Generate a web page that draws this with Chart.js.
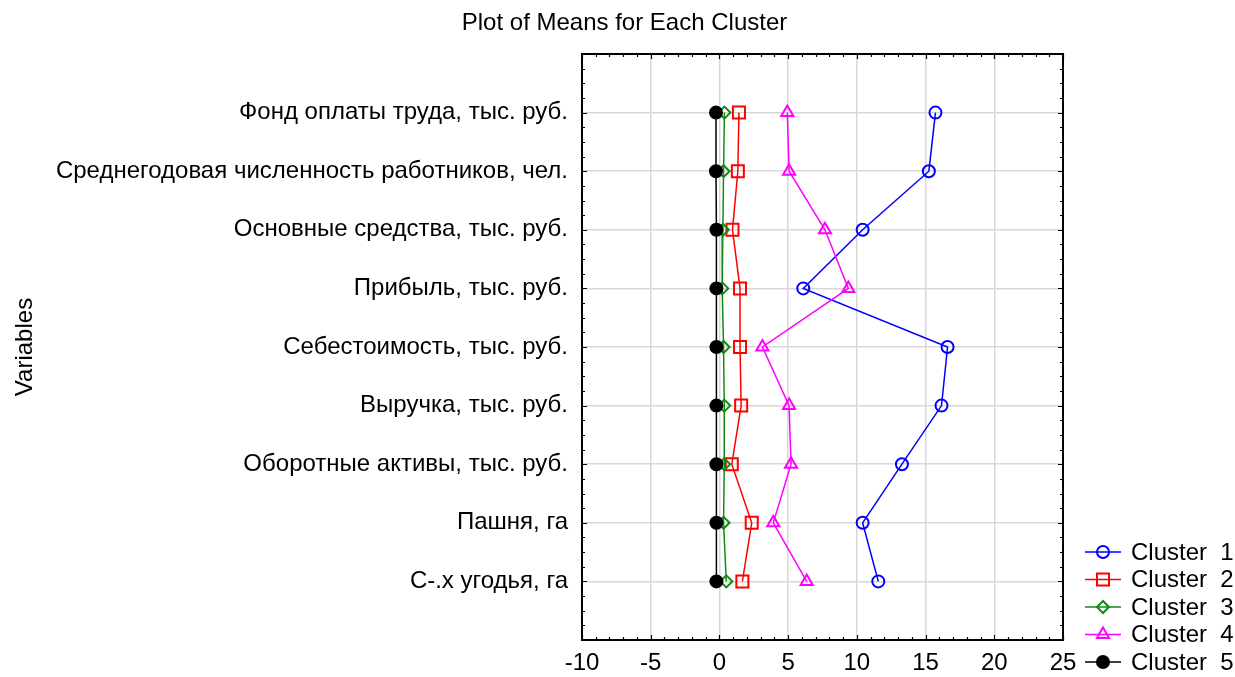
<!DOCTYPE html>
<html>
<head>
<meta charset="utf-8">
<script src="https://cdn.jsdelivr.net/npm/chart.js@4/dist/chart.umd.min.js"></script>
<style>
  html, body { margin: 0; padding: 0; background: #fff; }
  #wrap { width: 1235px; height: 677px; }
</style>
</head>
<body>
<div id="wrap"><canvas id="Chart" width="1235" height="677"></canvas></div>
<script>
// variables (rows from top to bottom)
const variables = [
  'Фонд оплаты труда, тыс. руб.',
  'Среднегодовая численность работников, чел.',
  'Основные средства, тыс. руб.',
  'Прибыль, тыс. руб.',
  'Себестоимость, тыс. руб.',
  'Выручка, тыс. руб.',
  'Оборотные активы, тыс. руб.',
  'Пашня, га',
  'С-.х угодья, га'
];
// means for each cluster, same order as variables
const cluster1 = [15.72, 15.24, 10.42, 6.10, 16.60, 16.16, 13.28, 10.42, 11.56];
const cluster2 = [1.42, 1.34, 0.95, 1.50, 1.50, 1.58, 0.90, 2.35, 1.67];
const cluster3 = [0.36, 0.30, 0.25, 0.20, 0.30, 0.35, 0.35, 0.30, 0.50];
const cluster4 = [4.94, 5.07, 7.68, 9.38, 3.13, 5.07, 5.21, 3.92, 6.35];
const cluster5 = [-0.25, -0.25, -0.22, -0.22, -0.22, -0.22, -0.22, -0.22, -0.22];
const xTicks = [-10, -5, 0, 5, 10, 15, 20, 25];

const clusterNames = ['Cluster  1', 'Cluster  2', 'Cluster  3', 'Cluster  4', 'Cluster  5'];
const clusterValues = [cluster1, cluster2, cluster3, cluster4, cluster5];
const colors = ['#0000ff', '#ff0000', '#138a13', '#ff00ff', '#000000'];
const shapes = ['circle', 'rect', 'rectRot', 'triangle', 'circle'];
const radii = [6, 8.5, 6, 7, 6];
const FONT = '"Liberation Sans", Arial, sans-serif';

function toPoints(vals) {
  return vals.map(function (v, i) { return { x: v, y: i + 1 }; });
}

const datasets = clusterValues.map(function (vals, i) {
  return {
    label: clusterNames[i],
    data: toPoints(vals),
    borderColor: colors[i],
    backgroundColor: i === 4 ? '#000' : 'rgba(0,0,0,0)',
    borderWidth: 1.5,
    pointStyle: shapes[i],
    pointRadius: radii[i],
    pointBorderWidth: 2,
    pointBorderColor: colors[i],
    pointBackgroundColor: i === 4 ? '#000' : 'rgba(0,0,0,0)',
    order: 5 - i,
    tension: 0
  };
});

// frame with inward ticks, like the original plot
const framePlugin = {
  id: 'frame',
  afterDatasetsDraw(chart) {
    const ctx = chart.ctx;
    const a = chart.chartArea;
    const xs = chart.scales.x;
    const ys = chart.scales.y;
    ctx.save();
    ctx.strokeStyle = '#000';
    ctx.lineWidth = 1.2;
    ctx.beginPath();
    for (let v = xs.min; v <= xs.max; v++) {
      const px = Math.round(xs.getPixelForValue(v)) + 0.5;
      const len = v % 5 === 0 ? 5 : 3;
      ctx.moveTo(px, a.bottom); ctx.lineTo(px, a.bottom - len);
      ctx.moveTo(px, a.top); ctx.lineTo(px, a.top + len);
    }
    for (let v = 0; v <= 10; v += 0.25) {
      const py = Math.round(ys.getPixelForValue(v)) + 0.5;
      const len = v % 1 === 0 ? 5 : 3;
      ctx.moveTo(a.left, py); ctx.lineTo(a.left + len, py);
      ctx.moveTo(a.right, py); ctx.lineTo(a.right - len, py);
    }
    ctx.stroke();
    ctx.lineWidth = 2;
    ctx.strokeRect(a.left, a.top, a.right - a.left, a.bottom - a.top);
    ctx.restore();
  }
};

// title over the whole picture + legend in the lower right corner
const legendPlugin = {
  id: 'sideLegend',
  afterDraw(chart) {
    const ctx = chart.ctx;
    const x0 = chart.chartArea.right + 22;
    const n = chart.data.datasets.length;
    ctx.save();
    ctx.fillStyle = '#000';
    ctx.font = '24px ' + FONT;
    ctx.textAlign = 'center';
    ctx.textBaseline = 'middle';
    ctx.fillText('Plot of Means for Each Cluster', chart.width / 2 + 7, 23);
    ctx.textAlign = 'left';
    chart.data.datasets.forEach(function (ds, i) {
      const y = chart.height - 15 - (n - 1 - i) * 27.5;
      ctx.strokeStyle = ds.borderColor;
      ctx.lineWidth = 1.5;
      ctx.beginPath();
      ctx.moveTo(x0, y); ctx.lineTo(x0 + 36, y);
      ctx.stroke();
      ctx.lineWidth = 2;
      ctx.fillStyle = ds.pointBackgroundColor;
      Chart.helpers.drawPoint(ctx, {
        pointStyle: ds.pointStyle,
        radius: ds.pointRadius,
        borderWidth: 2
      }, x0 + 18, y);
      ctx.fillStyle = '#000';
      ctx.fillText(ds.label, x0 + 46, y + 1);
    });
    ctx.restore();
  }
};

const data = { datasets: datasets };

const config = {
  type: 'line',
  data: data,
  plugins: [framePlugin, legendPlugin],
  options: {
    responsive: false,
    animation: false,
    layout: { padding: { left: 0, right: 172, top: 54, bottom: 0 } },
    plugins: {
      legend: { display: false },
      tooltip: { enabled: false },
      title: { display: false }
    },
    scales: {
      x: {
        type: 'linear',
        min: -10,
        max: 25,
        afterBuildTicks: function (scale) {
          scale.ticks = xTicks.map(function (v) { return { value: v }; });
        },
        afterFit: function (scale) { scale.height = 37; },
        grid: { color: '#d8d8d8', lineWidth: 1.5, drawTicks: false },
        border: { display: false },
        ticks: {
          color: '#000',
          padding: 9,
          maxRotation: 0,
          font: { family: FONT, size: 24 }
        }
      },
      y: {
        type: 'linear',
        min: 0,
        max: 10,
        reverse: true,
        afterBuildTicks: function (scale) {
          scale.ticks = variables.map(function (v, i) { return { value: i + 1 }; });
        },
        afterFit: function (scale) { scale.width = 582; },
        grid: { color: '#d8d8d8', lineWidth: 1.5, drawTicks: false },
        border: { display: false },
        ticks: {
          color: '#000',
          padding: 14,
          font: { family: FONT, size: 24 },
          callback: function (v) { return variables[v - 1] || ''; }
        },
        title: {
          display: true,
          text: 'Variables',
          color: '#000',
          font: { family: FONT, size: 24 },
          padding: { top: 11, bottom: 0 }
        }
      }
    }
  }
};

let myChart = new Chart(document.getElementById('Chart'), config);
</script>
</body>
</html>
